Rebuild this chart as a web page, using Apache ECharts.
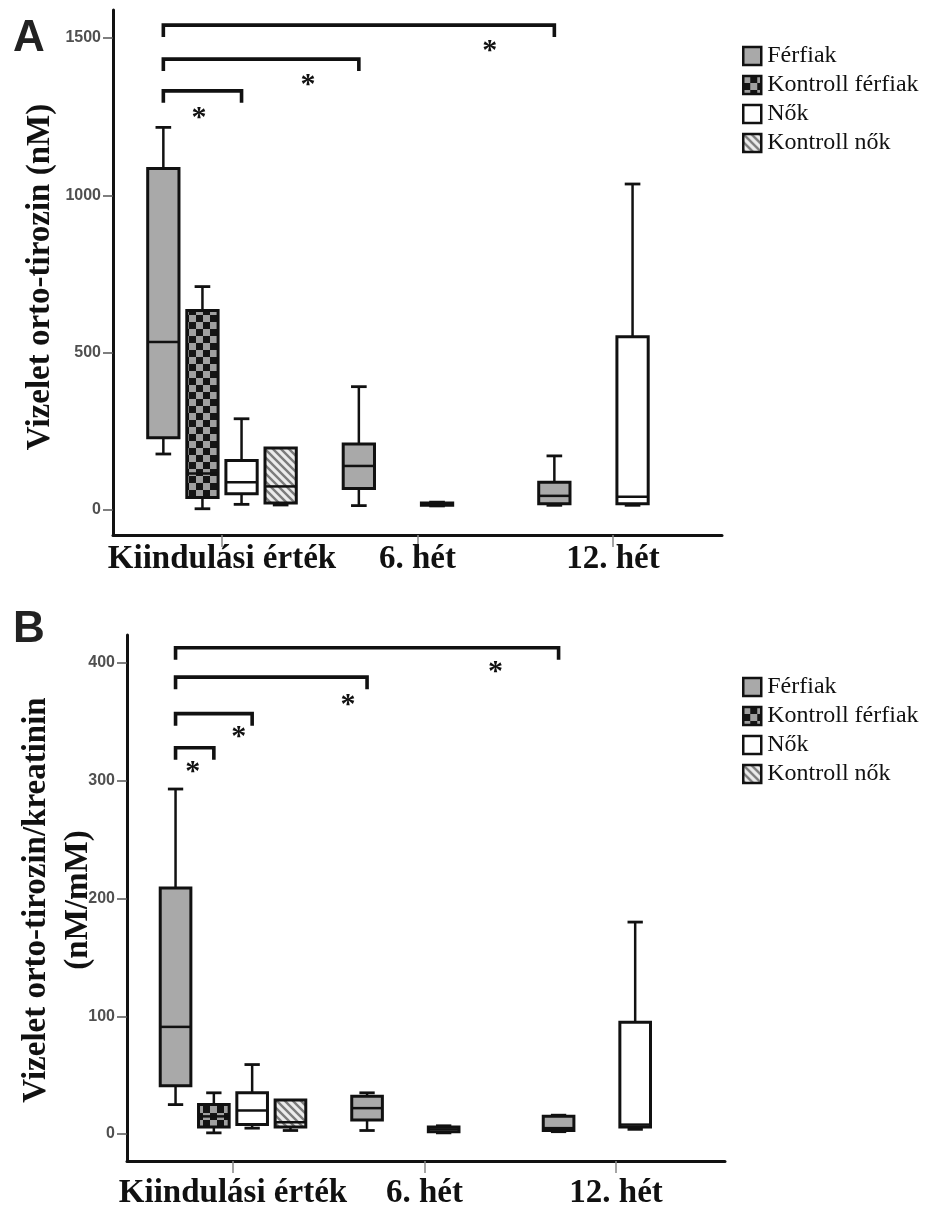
<!DOCTYPE html>
<html><head><meta charset="utf-8">
<script src="https://cdn.jsdelivr.net/npm/echarts@6/dist/echarts.min.js"></script>
<style>html,body{margin:0;padding:0;background:#fff}#c{width:942px;height:1216px}</style>
</head><body><div id="c"></div>
<script>
// ---------- DATA ----------
const categories = ['Kiindulási érték', '6. hét', '12. hét'];
const seriesNames = ['Férfiak', 'Kontroll férfiak', 'Nők', 'Kontroll nők'];
// five-number summaries per category: [min, Q1, median, Q3, max]; null = no group
const A_ferfiak         = [[178, 230, 534, 1085, 1216], [14, 68, 140, 210, 392], [15, 20, 45, 88, 172]];
const A_kontrollFerfiak = [[4, 40, 116, 634, 710], null, null];
const A_nok             = [[18, 52, 88, 157, 290], [13, 15, 18, 22, 25], [15, 20, 42, 551, 1036]];
const A_kontrollNok     = [[16, 22, 75, 197, 197], null, null];
const B_ferfiak         = [[25, 41, 91, 209, 293], [3, 12, 22, 32, 35], [2, 3, 5, 15, 16]];
const B_kontrollFerfiak = [[1, 6, 15, 25, 35], null, null];
const B_nok             = [[5, 8, 20, 35, 59], [1, 2, 4, 6, 7], [4, 6, 8, 95, 180]];
const B_kontrollNok     = [[3, 6, 10, 29, 29], null, null];
const A_yTicks = [0, 500, 1000, 1500];
const B_yTicks = [0, 100, 200, 300, 400];
// significance brackets: [fromCategory, fromGroup, toCategory, toGroup, y]
const A_brackets = [[0, 0, 2, 0, 1541], [0, 0, 1, 0, 1433], [0, 0, 0, 2, 1332]];
const B_brackets = [[0, 0, 2, 0, 413], [0, 0, 1, 0, 388], [0, 0, 0, 2, 357], [0, 0, 0, 1, 328]];
// asterisk positions: [x (category units), y]
const A_stars = [[1.37, 1476], [0.44, 1368], [-0.117, 1265]];
const B_stars = [[1.37, 397], [0.6, 369], [0.03, 342], [-0.21, 312]];

// ---------- LAYOUT / STYLE ----------
const GROUP_OFFSET = [-0.3, -0.1, 0.1, 0.3];
const BOX_W = 0.16, CAP_RATIO = 0.5, EDGE = '#111';
const SERIF = "'Liberation Serif','Times New Roman',serif";
const SANS = "'Liberation Sans',Arial,sans-serif";

function makePattern(kind) {
  const c = document.createElement('canvas');
  if (kind === 'checker') {
    const s = 7; c.width = c.height = 2 * s;
    const g = c.getContext('2d');
    g.fillStyle = '#141414'; g.fillRect(0, 0, 2 * s, 2 * s);
    g.fillStyle = '#a0a0a0'; g.fillRect(0, 0, s, s); g.fillRect(s, s, s, s);
  } else {
    const s = 8; c.width = c.height = s;
    const g = c.getContext('2d');
    g.fillStyle = '#ececec'; g.fillRect(0, 0, s, s);
    g.strokeStyle = '#7c7c7c'; g.lineWidth = 2.4;
    g.beginPath();
    [-s, 0, s].forEach(o => { g.moveTo(o - 1, -1); g.lineTo(o + s + 1, s + 1); });
    g.stroke();
  }
  return { image: c, repeat: 'repeat' };
}
const fills = ['#a9a9a9', makePattern('checker'), '#ffffff', makePattern('hatch')];

function line(x1, y1, x2, y2, w) {
  return { type: 'line', shape: { x1, y1, x2, y2 }, style: { stroke: EDGE, lineWidth: w } };
}
function boxRenderer(params, api) {
  const x = api.value(0);
  const lo = api.coord([x, api.value(1)]);
  const q1 = api.coord([x, api.value(2)]);
  const md = api.coord([x, api.value(3)]);
  const q3 = api.coord([x, api.value(4)]);
  const hi = api.coord([x, api.value(5)]);
  const w = api.size([BOX_W, 0])[0];
  const cw = w * CAP_RATIO;
  const cx = md[0];
  const ch = [];
  if (hi[1] < q3[1] - 0.5) { ch.push(line(cx, hi[1], cx, q3[1], 2.5), line(cx - cw / 2, hi[1], cx + cw / 2, hi[1], 2.8)); }
  if (lo[1] > q1[1] + 0.5) { ch.push(line(cx, q1[1], cx, lo[1], 2.5), line(cx - cw / 2, lo[1], cx + cw / 2, lo[1], 2.8)); }
  ch.push({ type: 'rect', shape: { x: cx - w / 2, y: q3[1], width: w, height: Math.max(q1[1] - q3[1], 1) },
            style: { fill: api.visual('color'), stroke: EDGE, lineWidth: 3 } });
  ch.push(line(cx - w / 2, md[1], cx + w / 2, md[1], 2.5));
  return { type: 'group', children: ch };
}
function bracketRenderer(params, api) {
  const y = api.value(2);
  const p1 = api.coord([api.value(0), y]);
  const p2 = api.coord([api.value(1), y]);
  const drop = 12;
  return { type: 'polyline', shape: { points: [[p1[0], p1[1] + drop], p1, p2, [p2[0], p2[1] + drop]] },
           style: { stroke: EDGE, lineWidth: 3.6, fill: null, lineJoin: 'miter' } };
}
function starRenderer(params, api) {
  const p = api.coord([api.value(0), api.value(1)]);
  return { type: 'text', x: p[0], y: p[1] + 6,
           style: { text: '*', font: 'bold 30px ' + SERIF, fill: EDGE, align: 'center', verticalAlign: 'middle' } };
}

function panelSeries(gi, groups, brackets, stars) {
  const out = [];
  groups.forEach((arr, si) => {
    const data = [];
    arr.forEach((v, ci) => { if (v) data.push([ci + GROUP_OFFSET[si]].concat(v)); });
    out.push({ type: 'custom', name: seriesNames[si], xAxisIndex: gi, yAxisIndex: gi,
      itemStyle: { color: fills[si] }, renderItem: boxRenderer, data,
      encode: { x: 0, y: [1, 2, 3, 4, 5] }, z: 3 });
  });
  out.push({ type: 'custom', xAxisIndex: gi, yAxisIndex: gi, renderItem: bracketRenderer,
    data: brackets.map(b => [b[0] + GROUP_OFFSET[b[1]], b[2] + GROUP_OFFSET[b[3]], b[4]]),
    encode: { x: [0, 1], y: 2 }, silent: true });
  out.push({ type: 'custom', xAxisIndex: gi, yAxisIndex: gi, renderItem: starRenderer,
    data: stars, encode: { x: 0, y: 1 }, silent: true });
  return out;
}

function xAxis(gi, min, max, margin) {
  return { type: 'value', gridIndex: gi, min, max,
    axisLine: { show: true, onZero: false, lineStyle: { color: EDGE, width: 3 } },
    axisTick: { show: true, customValues: [0, 1, 2], length: 12, lineStyle: { color: '#888', width: 1.5 } },
    axisLabel: { customValues: [0, 1, 2], formatter: v => categories[Math.round(v)],
      fontFamily: SERIF, fontWeight: 'bold', fontSize: 33, color: '#111', margin },
    splitLine: { show: false } };
}
function yAxis(gi, min, max, ticks) {
  return { type: 'value', gridIndex: gi, min, max,
    axisLine: { show: true, onZero: false, lineStyle: { color: EDGE, width: 3 } },
    axisTick: { show: true, customValues: ticks, length: 10, lineStyle: { color: '#555', width: 1.5 } },
    axisLabel: { customValues: ticks, formatter: v => String(v), fontFamily: SANS, fontWeight: 'bold', fontSize: 16, color: '#505050', margin: 12 },
    splitLine: { show: false } };
}
function legend(top) {
  return { data: seriesNames, orient: 'vertical', left: 737, top, icon: 'rect',
    itemWidth: 18, itemHeight: 18, itemGap: 5, selectedMode: false,
    itemStyle: { borderColor: EDGE, borderWidth: 2.5 },
    textStyle: { fontFamily: SERIF, fontSize: 24, color: '#111', lineHeight: 24, padding: [0, 0, 0, 1] } };
}

const chart = echarts.init(document.getElementById('c'), null, { renderer: 'canvas' });
chart.setOption({
  animation: false,
  backgroundColor: '#fff',
  title: [
    { text: 'A', left: 8, top: 12, textStyle: { fontFamily: SANS, fontWeight: 'bold', fontSize: 44, color: '#222' } },
    { text: 'B', left: 8, top: 603, textStyle: { fontFamily: SANS, fontWeight: 'bold', fontSize: 44, color: '#222' } }
  ],
  legend: [legend(39), legend(670)],
  grid: [
    { left: 113, top: 10, width: 609, height: 525 },
    { left: 127, top: 635, width: 598, height: 526 }
  ],
  xAxis: [xAxis(0, -0.5575, 2.5575, 8), xAxis(1, -0.5535, 2.569, 16)],
  yAxis: [yAxis(0, -79.4, 1589, A_yTicks), yAxis(1, -22.9, 423.8, B_yTicks)],
  graphic: [
    { type: 'text', x: 40, y: 277, rotation: Math.PI / 2,
      style: { text: 'Vizelet orto-tirozin (nM)', font: 'bold 33px ' + SERIF, fill: '#111', align: 'center', verticalAlign: 'middle' } },
    { type: 'text', x: 57, y: 900, rotation: Math.PI / 2,
      style: { text: 'Vizelet orto-tirozin/kreatinin\n(nM/mM)', font: 'bold 33px ' + SERIF, lineHeight: 42, fill: '#111', align: 'center', verticalAlign: 'middle' } }
  ],
  series: [].concat(
    panelSeries(0, [A_ferfiak, A_kontrollFerfiak, A_nok, A_kontrollNok], A_brackets, A_stars),
    panelSeries(1, [B_ferfiak, B_kontrollFerfiak, B_nok, B_kontrollNok], B_brackets, B_stars)
  )
});
</script></body></html>
